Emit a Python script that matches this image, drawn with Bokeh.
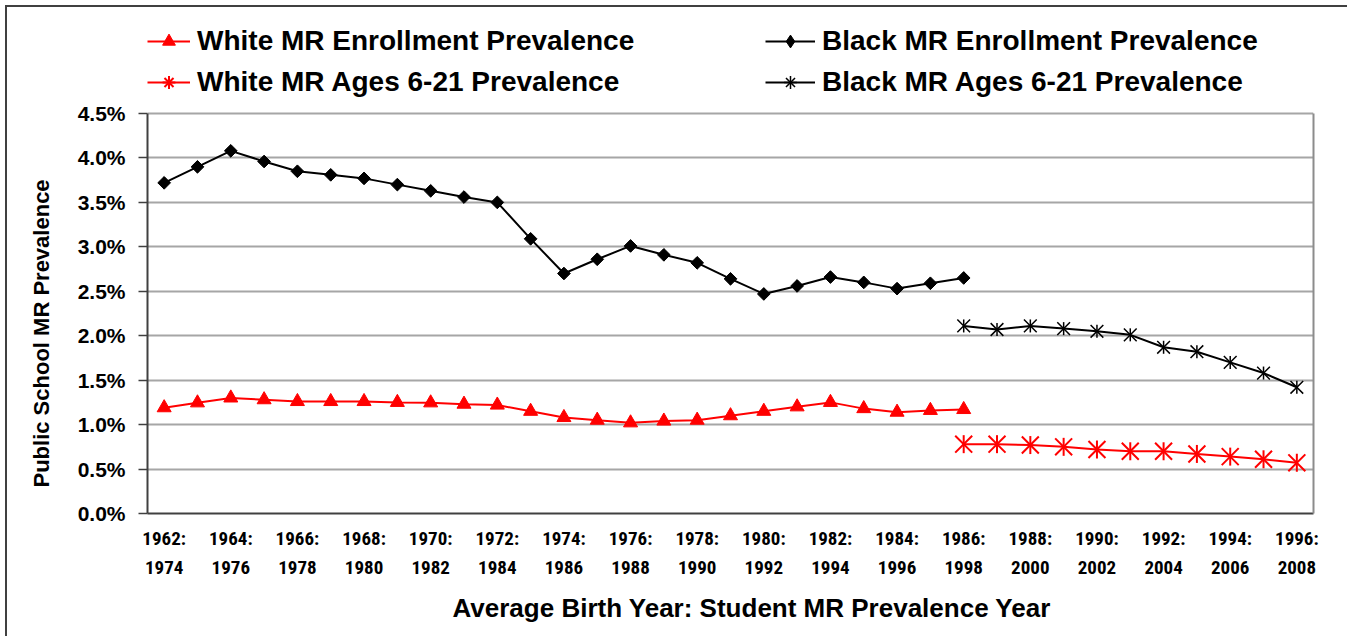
from bokeh.plotting import figure
from bokeh.models import (Legend, LegendItem, FixedTicker, Range1d, NumeralTickFormatter,
                          LinearAxis, Title)
from bokeh.embed import file_html
from bokeh.resources import INLINE
import math

# ---------------- data ----------------
enroll_years = [1962, 1963, 1964, 1965, 1966, 1967, 1968, 1969, 1970, 1971, 1972, 1973,
                1974, 1975, 1976, 1977, 1978, 1979, 1980, 1981, 1982, 1983, 1984, 1985, 1986]
ages_years = [1986, 1987, 1988, 1989, 1990, 1991, 1992, 1993, 1994, 1995, 1996]

# prevalence in percent
white_enroll = [1.19, 1.245, 1.30, 1.28, 1.26, 1.26, 1.26, 1.25, 1.245, 1.23, 1.22, 1.15,
                1.08, 1.05, 1.02, 1.04, 1.05, 1.10, 1.15, 1.20, 1.25, 1.18, 1.14, 1.16, 1.17]
black_enroll = [3.72, 3.90, 4.08, 3.96, 3.85, 3.81, 3.77, 3.70, 3.63, 3.56, 3.50, 3.09,
                2.70, 2.86, 3.01, 2.91, 2.82, 2.64, 2.47, 2.56, 2.66, 2.60, 2.53, 2.59, 2.65]
white_ages = [0.78, 0.78, 0.77, 0.75, 0.72, 0.70, 0.70, 0.67, 0.64, 0.61, 0.57]
black_ages = [2.11, 2.07, 2.11, 2.08, 2.05, 2.01, 1.87, 1.82, 1.70, 1.58, 1.42]

tick_years = [1962, 1964, 1966, 1968, 1970, 1972, 1974, 1976, 1978,
              1980, 1982, 1984, 1986, 1988, 1990, 1992, 1994, 1996]
tick_labels = ["1962:\n1974", "1964:\n1976", "1966:\n1978", "1968:\n1980", "1970:\n1982",
               "1972:\n1984", "1974:\n1986", "1976:\n1988", "1978:\n1990", "1980:\n1992",
               "1982:\n1994", "1984:\n1996", "1986:\n1998", "1988:\n2000", "1990:\n2002",
               "1992:\n2004", "1994:\n2006", "1996:\n2008"]
y_ticks = [0.0, 0.005, 0.01, 0.015, 0.02, 0.025, 0.03, 0.035, 0.04, 0.045]
y_max = 0.045

labels = ["White MR Enrollment Prevalence", "Black MR Enrollment Prevalence",
          "White MR Ages 6-21 Prevalence", "Black MR Ages 6-21 Prevalence"]
x_title = "Average Birth Year: Student MR Prevalence Year"
y_title = "Public School MR Prevalence"

RED = "#ff0000"
BLACK = "#000000"
AXIS = "#404040"
FONT = "Liberation Sans, Arial, sans-serif"
NARROW = "Liberation Sans Narrow, Arial Narrow, Roboto Condensed, sans-serif"

# frame runs from y=20 to y=513; the 4.5% line sits at y=113 (legend space above it)
FRAME_TOP, PLOT_TOP, FRAME_BOTTOM = 20, 113, 513
y_end = y_max * (FRAME_BOTTOM - FRAME_TOP) / (FRAME_BOTTOM - PLOT_TOP)

p = figure(width=1347, height=636,
           x_range=Range1d(1961.5, 1996.5), y_range=Range1d(0, y_end),
           output_backend="svg", toolbar_location=None,
           min_border_left=147, min_border_right=34, min_border_top=FRAME_TOP,
           min_border_bottom=636 - FRAME_BOTTOM)
p.border_fill_color = None
p.background_fill_color = None
p.styles = {"box-shadow": "inset 5px 5px 0 white, inset 7px 7px 0 #404040"}
p.outline_line_color = None

p.xgrid.visible = False
p.ygrid.grid_line_color = "#a6a6a6"
p.ygrid.grid_line_width = 2
p.ygrid.ticker = FixedTicker(ticks=y_ticks)

def pct(v):
    return [x / 100.0 for x in v]

# White enrollment
l1 = p.line(enroll_years, pct(white_enroll), line_color=RED, line_width=2)
m1 = p.scatter(enroll_years, pct(white_enroll), marker="triangle", size=14,
               fill_color=RED, line_color=RED)
# Black enrollment (diamond for the legend, covered by the rotated squares in the plot)
l2 = p.line(enroll_years, pct(black_enroll), line_color=BLACK, line_width=2)
m2 = p.scatter(enroll_years, pct(black_enroll), marker="diamond", size=11,
               fill_color=BLACK, line_color=BLACK)
m2b = p.scatter(enroll_years, pct(black_enroll), marker="square", angle=math.pi / 4, size=9,
                fill_color=BLACK, line_color=BLACK, line_width=1)
# White ages 6-21
l3 = p.line(ages_years, pct(white_ages), line_color=RED, line_width=2)
m3a = p.scatter(ages_years, pct(white_ages), marker="x", size=24, line_color=RED, line_width=2)
m3b = p.scatter(ages_years, pct(white_ages), marker="dash", angle=math.pi / 2, size=18,
                line_color=RED, line_width=2)
m3c = p.scatter(ages_years, pct(white_ages), marker="cross", size=1, line_color=RED, line_width=2)
# Black ages 6-21
l4 = p.line(ages_years, pct(black_ages), line_color=BLACK, line_width=2)
m4a = p.scatter(ages_years, pct(black_ages), marker="x", size=18, line_color=BLACK, line_width=1.5)
m4b = p.scatter(ages_years, pct(black_ages), marker="dash", angle=math.pi / 2, size=13,
                line_color=BLACK, line_width=1.5)
m4c = p.scatter(ages_years, pct(black_ages), marker="cross", size=1, line_color=BLACK, line_width=1.5)

# x axis
xa = p.xaxis[0]
xa.ticker = FixedTicker(ticks=tick_years)
xa.major_label_overrides = {y: t for y, t in zip(tick_years, tick_labels)}
xa.major_tick_out = 0
xa.major_tick_in = 0
xa.minor_tick_out = 0
xa.minor_tick_in = 0
xa.axis_line_color = AXIS
xa.axis_line_width = 2
xa.major_label_text_font = NARROW
xa.major_label_text_font_style = "bold"
xa.major_label_text_font_size = "19px"
xa.major_label_text_color = "black"
xa.major_label_text_line_height = 1.28
xa.major_label_standoff = 13

# y axis (line only up to 4.5%)
ya = p.yaxis[0]
ya.bounds = (0, y_max)
ya.ticker = FixedTicker(ticks=y_ticks)
ya.formatter = NumeralTickFormatter(format="0.0%")
ya.major_tick_out = 9
ya.major_tick_in = 0
ya.minor_tick_out = 0
ya.minor_tick_in = 0
ya.major_tick_line_color = AXIS
ya.major_tick_line_width = 1.5
ya.axis_line_color = AXIS
ya.axis_line_width = 2
ya.major_label_text_font = FONT
ya.major_label_text_font_style = "bold"
ya.major_label_text_font_size = "21px"
ya.major_label_text_color = "black"
ya.major_label_standoff = 13

# right border of the plot area
ra = LinearAxis(bounds=(0, y_max), ticker=FixedTicker(ticks=[]),
                axis_line_color="#8c8c8c", axis_line_width=2,
                major_tick_out=0, minor_tick_out=0)
p.add_layout(ra, "right")

# axis titles
xt = Title(text=x_title, align="left", offset=305, standoff=18,
           text_font=FONT, text_font_style="bold", text_font_size="26px", text_color="black")
p.add_layout(xt, "below")
yt = Title(text=y_title, align="left", offset=26, standoff=42,
           text_font=FONT, text_font_style="bold", text_font_size="22px", text_color="black")
p.add_layout(yt, "left")

def make_legend(items, loc, glyph_w):
    leg = Legend(items=items, location=loc, orientation="vertical")
    leg.label_text_font = FONT
    leg.label_text_font_style = "bold"
    leg.label_text_font_size = "28px"
    leg.label_text_color = "black"
    leg.glyph_width = glyph_w
    leg.glyph_height = 32
    leg.label_height = 32
    leg.label_standoff = 7
    leg.spacing = 9
    leg.padding = 0
    leg.margin = 0
    leg.border_line_color = None
    leg.background_fill_alpha = 0
    return leg

left_leg = make_legend([LegendItem(label=labels[0], renderers=[l1, m1]),
                        LegendItem(label=labels[2], renderers=[l3, m3a, m3c])], (0, 415), 43)
right_leg = make_legend([LegendItem(label=labels[1], renderers=[l2, m2]),
                         LegendItem(label=labels[3], renderers=[l4, m4a, m4c])], (618, 415), 50)
p.add_layout(left_leg, "center")
p.add_layout(right_leg, "center")

open("out.html", "w").write(file_html(p, INLINE))
